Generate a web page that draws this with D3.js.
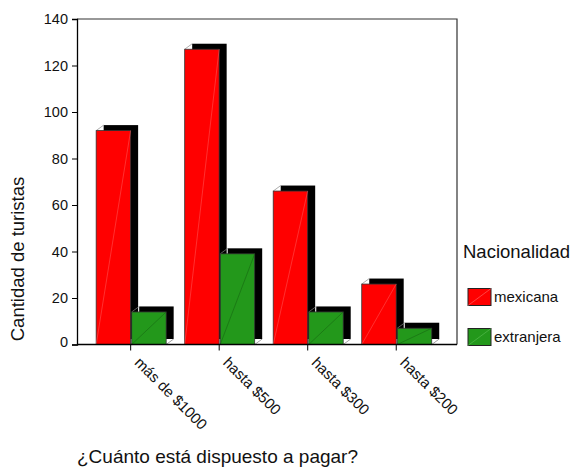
<!DOCTYPE html>
<html>
<head>
<meta charset="utf-8">
<script src="https://cdn.jsdelivr.net/npm/d3@7"></script>
<style>
  html, body { margin: 0; padding: 0; background: #fff; }
  svg { display: block; font-family: "Liberation Sans", Arial, sans-serif; }
</style>
</head>
<body>
<svg id="chart" width="574" height="470"></svg>
<script>
// Willingness to pay, by nationality of the tourist
const categories = ["más de $1000", "hasta $500", "hasta $300", "hasta $200"];
const series = ["mexicana", "extranjera"];
const mexicana = [92, 127, 66, 26];
const extranjera = [14, 39, 14, 7];
const yTicks = [0, 20, 40, 60, 80, 100, 120, 140];
const colors = ["#ff0000", "#23981b"];
const seriesValues = [mexicana, extranjera];

const svg = d3.select("#chart");

const plot = { left: 77, right: 457, top: 19, bottom: 344.5 };

const y = d3.scaleLinear().domain([0, 140]).range([plot.bottom, plot.top]);
const x = d3.scaleBand().domain(categories).range([86.4, 440.5]).padding(0);
const bw = x.bandwidth();
const xs = d3.scaleBand().domain(series)
  .range([bw / 2 - 34.5, bw / 2 + 35.5]).paddingInner(0.03);

const shadow = { dx: 7.5, dy: -5.5 };

// Bars with a black drop shadow
const groups = svg.append("g").selectAll("g")
  .data(categories)
  .join("g")
  .attr("transform", d => `translate(${x(d)},0)`);

groups.each(function (cat, ci) {
  const g = d3.select(this);
  series.forEach((s, si) => {
    const v = seriesValues[si][ci];
    const x0 = xs(s), w = xs.bandwidth();
    const y0 = y(v), h = y(0) - y(v);
    g.append("rect")
      .attr("x", x0 + shadow.dx).attr("y", y0 + shadow.dy)
      .attr("width", w).attr("height", h)
      .attr("fill", "#000");
    // bevel lines joining bar and shadow corners
    g.append("line")
      .attr("x1", x0).attr("y1", y0)
      .attr("x2", x0 + shadow.dx).attr("y2", y0 + shadow.dy)
      .attr("stroke", "#888").attr("stroke-width", 0.7);
    g.append("line")
      .attr("x1", x0 + w).attr("y1", y(0))
      .attr("x2", x0 + w + shadow.dx).attr("y2", y(0) + shadow.dy)
      .attr("stroke", "#777").attr("stroke-width", 0.7);
    g.append("rect")
      .attr("x", x0).attr("y", y0)
      .attr("width", w).attr("height", h)
      .attr("fill", colors[si])
      .attr("stroke", "#333").attr("stroke-width", 0.8);
    g.append("line")
      .attr("x1", x0).attr("y1", y(0))
      .attr("x2", x0 + w).attr("y2", y0)
      .attr("stroke", si === 0 ? "#ff6060" : "#145e10")
      .attr("stroke-width", 0.5);
  });
});

// Frame top and right
svg.append("path")
  .attr("d", `M${plot.left},${plot.top}H${plot.right}V${plot.bottom}`)
  .attr("fill", "none").attr("stroke", "#333").attr("stroke-width", 1.2);

// Y axis
const yAxis = svg.append("g")
  .attr("transform", `translate(${plot.left},0)`)
  .call(d3.axisLeft(y).tickValues(yTicks).tickSize(5).tickPadding(4).tickFormat(d3.format("d")));
yAxis.select(".domain").attr("stroke", "#000").attr("stroke-width", 1.3);
yAxis.selectAll(".tick line").attr("stroke", "#000");
yAxis.selectAll(".tick text")
  .attr("font-size", 14.5).attr("fill", "#111")
  .attr("font-family", "Liberation Sans, Arial, sans-serif")
  .attr("y", d => d === 0 ? -3 : 0);

// X axis
const xAxis = svg.append("g")
  .attr("transform", `translate(0,${plot.bottom})`)
  .call(d3.axisBottom(x).tickSize(6).tickSizeOuter(0));
xAxis.select(".domain").attr("d", `M${plot.left},0H${plot.right}`)
  .attr("stroke", "#000").attr("stroke-width", 1.3);
xAxis.selectAll(".tick line").attr("stroke", "#000");
xAxis.selectAll(".tick text")
  .attr("font-size", 15).attr("fill", "#111")
  .attr("font-family", "Liberation Sans, Arial, sans-serif")
  .attr("text-anchor", "start")
  .attr("dy", null).attr("y", null)
  .attr("transform", "translate(3,19) rotate(45)");

// Axis titles
svg.append("text")
  .attr("transform", "translate(24,259) rotate(-90)")
  .attr("text-anchor", "middle")
  .attr("font-size", 18.5).attr("fill", "#111")
  .text("Cantidad de turistas");

svg.append("text")
  .attr("x", 217.5).attr("y", 463)
  .attr("text-anchor", "middle")
  .attr("font-size", 19).attr("fill", "#111")
  .text("¿Cuánto está dispuesto a pagar?");

// Legend
const legend = svg.append("g");
legend.append("text")
  .attr("x", 463).attr("y", 258)
  .attr("font-size", 18.5).attr("fill", "#111")
  .text("Nacionalidad");

const legendY = d3.scalePoint().domain(series).range([288.5, 328.5]);
const items = legend.selectAll("g.item")
  .data(series)
  .join("g")
  .attr("class", "item")
  .attr("transform", d => `translate(468,${legendY(d)})`);
items.append("rect")
  .attr("width", 23).attr("height", 17)
  .attr("fill", (d, i) => colors[i])
  .attr("stroke", "#222").attr("stroke-width", 1);
items.append("line")
  .attr("x1", 0).attr("y1", 17).attr("x2", 23).attr("y2", 0)
  .attr("stroke", (d, i) => i === 0 ? "#ff7070" : "#5cbf55")
  .attr("stroke-width", 0.6);
items.append("text")
  .attr("x", 26).attr("y", 8.5).attr("dy", "0.35em")
  .attr("font-size", 15).attr("fill", "#111")
  .text(d => d);
</script>
</body>
</html>
